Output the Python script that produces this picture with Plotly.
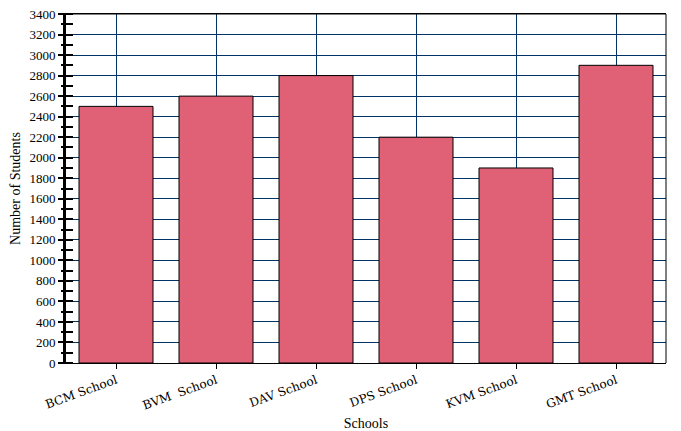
import plotly.graph_objects as go

schools = ["BCM School", "BVM  School", "DAV School", "DPS School", "KVM School", "GMT School"]
students = [2500, 2600, 2800, 2200, 1900, 2900]

font = "Liberation Serif"

fig = go.Figure()
fig.add_trace(go.Bar(
    x=schools, y=students,
    marker=dict(color="#E06075", line=dict(color="black", width=1)),
    width=0.74,
))
# helper invisible trace for outside minor ticks
fig.add_trace(go.Scatter(x=[schools[0]], y=[0], yaxis="y2", mode="markers",
                         marker=dict(opacity=0), showlegend=False, hoverinfo="skip"))

fig.update_layout(
    width=681, height=431,
    margin=dict(l=66, r=15, t=14, b=68),
    plot_bgcolor="white", paper_bgcolor="white",
    showlegend=False,
    font=dict(family=font, size=13, color="black"),
    xaxis=dict(
        automargin=False,
        showgrid=True, gridcolor="#003366", gridwidth=1,
        ticks="outside", ticklen=5, tickcolor="black",
        tickangle=-20,
        showline=True, linecolor="black", linewidth=1, mirror=True,
        title=dict(text="Schools", font=dict(size=14, family=font), standoff=6),
        tickfont=dict(size=12, family="DejaVu Serif"),
    ),
    yaxis=dict(
        automargin=False,
        range=[0, 3400], dtick=200, tick0=0,
        showgrid=True, gridcolor="#003366", gridwidth=1,
        ticks="outside", ticklen=5, tickcolor="black", tickwidth=2,
        minor=dict(dtick=100, ticks="inside", ticklen=7, tickcolor="black", tickwidth=2, showgrid=False),
        showline=True, linecolor="black", linewidth=3, mirror=False,
        title=dict(text="Number of Students", font=dict(size=14, family=font), standoff=6),
        tickfont=dict(size=13, family=font),
        zeroline=False,
    ),
    yaxis2=dict(
        automargin=False,
        range=[0, 3400], overlaying="y", side="left",
        tickvals=list(range(100, 3400, 200)), ticktext=[""] * 17,
        ticks="outside", ticklen=4, tickcolor="black", tickwidth=2,
        showgrid=False, showline=False, zeroline=False, showticklabels=True,
    ),
    bargap=0.26,
)
fig.add_shape(type="line", xref="paper", yref="paper", x0=0, x1=1, y0=1, y1=1,
              line=dict(color="black", width=1))
fig.add_shape(type="line", xref="paper", yref="paper", x0=1, x1=1, y0=0, y1=1,
              line=dict(color="black", width=1))

fig.write_html("out.html", config={"displayModeBar": False},
               post_script="document.body.style.margin='0';document.body.style.padding='0';")
